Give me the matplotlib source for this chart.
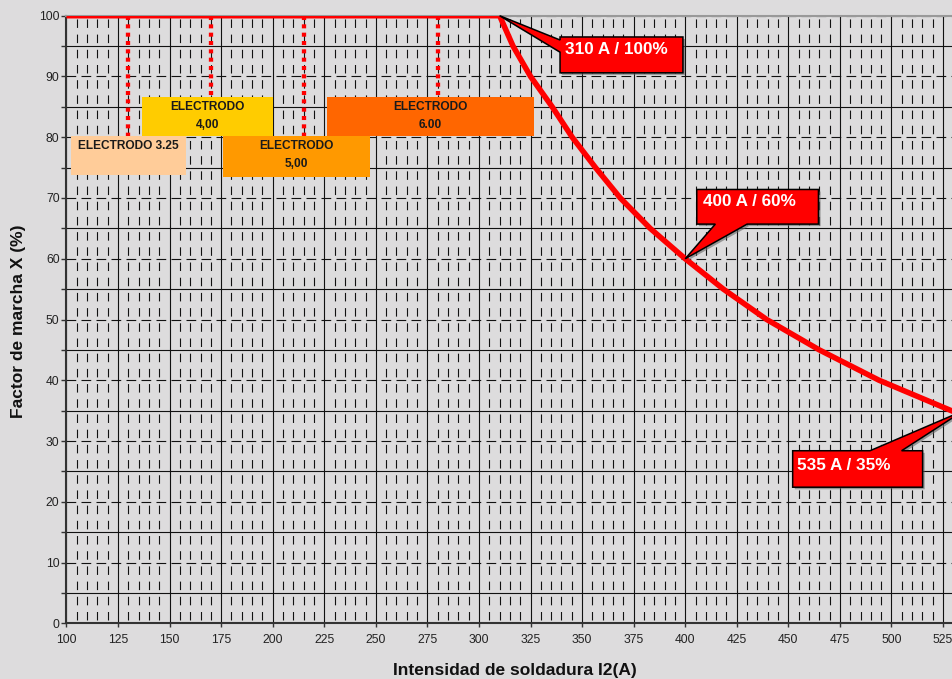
import matplotlib
matplotlib.use('Agg')
import matplotlib.pyplot as plt
from matplotlib.ticker import MultipleLocator
from matplotlib.patches import Polygon, Rectangle
import matplotlib.patheffects as pe

plt.rcParams['font.family'] = ['Liberation Sans', 'DejaVu Sans']
plt.rcParams['lines.scale_dashes'] = False

# ---------------- data ----------------
current = [100, 310, 316.5, 325, 335.5, 345.2, 356.5, 368.5, 383, 400, 418.5, 439.5, 465, 494, 529, 535]
duty = [100, 100, 95, 90, 85, 80, 75, 70, 65, 60, 55, 50, 45, 40, 35, 34.2]

electrode_names = ['ELECTRODO 3.25', 'ELECTRODO', 'ELECTRODO', 'ELECTRODO']
electrode_sizes = ['', '4,00', '5,00', '6.00']
electrode_current = [130, 170, 215, 280]

ann_labels = ['310 A / 100%', '400 A / 60%', '535 A / 35%']
ann_current = [310, 400, 535]
ann_duty = [100, 60, 35]

x_ticks = list(range(100, 526, 25))
y_ticks = list(range(0, 101, 10))

# ---------------- layout / style ----------------
bg = '#DDDCDD'
box_colors = ['#FFCC99', '#FFCC00', '#FF9900', '#FF6600']
# box extents (x0, x1, y_bottom, y_top) in data units
box_extent = [(102.2, 157.8, 73.8, 80.2),
              (136.5, 200.0, 80.2, 86.6),
              (175.9, 247.2, 73.5, 80.2),
              (226.2, 326.7, 80.2, 86.6)]
# callout boxes (x0, x1, y0, y1), wedge base, side
callout_box = [(339.3, 398.9, 90.6, 96.5),
               (405.6, 464.6, 65.7, 71.4),
               (452.1, 515.1, 22.4, 28.4)]
callout_wedge = [(94.0, 96.0), (414.6, 430.0), (489.6, 504.9)]
callout_side = ['left', 'bottom', 'top']
callout_text_pos = [(341.7, 94.4), (408.6, 69.4), (454.0, 26.05)]

W, H = 953, 679
fig = plt.figure(figsize=(W / 100, H / 100), dpi=100, facecolor=bg)
px_per_x = 2.0624
ax = fig.add_axes([66.5 / W, (H - 623.3) / H, 435 * px_per_x / W, (623.3 - 15.7) / H])
ax.set_facecolor(bg)
ax.set_xlim(100, 535)
ax.set_ylim(0, 100)

ax.xaxis.set_major_locator(MultipleLocator(25))
ax.xaxis.set_minor_locator(MultipleLocator(5))
ax.yaxis.set_major_locator(MultipleLocator(10))
ax.yaxis.set_minor_locator(MultipleLocator(5))
ax.set_xticks(x_ticks)
ax.set_yticks(y_ticks)

ax.set_axisbelow(True)
gcol = '#111111'
ax.grid(which='major', axis='x', color=gcol, lw=0.8, ls='-')
ax.grid(which='minor', axis='x', color=gcol, lw=0.8, ls=(8.78, (6.12, 4.82)))
ax.grid(which='major', axis='y', color=gcol, lw=0.8, ls=(0, (7.0, 3.8)))
ax.grid(which='minor', axis='y', color=gcol, lw=0.8, ls='-')

for s in ['left', 'bottom']:
    ax.spines[s].set_color('#333333')
    ax.spines[s].set_linewidth(1.5)
ax.spines['top'].set_color('#999999')
ax.spines['top'].set_linewidth(1.5)
ax.spines['right'].set_visible(False)

ax.tick_params(axis='x', which='major', direction='out', length=3, width=1,
               color='#333333', labelsize=8.7, pad=5, labelcolor='#222222')
ax.tick_params(axis='x', which='minor', length=0)
ax.tick_params(axis='y', which='both', direction='out', length=3.5, width=1,
               color='#333333', labelsize=8.7, pad=1.5, labelcolor='#222222')

fig.text(515 / W, 1 - 670 / H, 'Intensidad de soldadura I2(A)', ha='center', va='center',
         fontsize=12.5, fontweight='bold', color='#111111')
fig.text(18.5 / W, 1 - 321.7 / H, 'Factor de marcha X (%)', ha='center', va='center',
         rotation=90, fontsize=12.5, fontweight='bold', color='#111111')

# electrode boxes & dotted lines
for name, size, xc, col, (x0, x1, yb, yt) in zip(electrode_names, electrode_sizes,
                                                 electrode_current, box_colors, box_extent):
    ax.plot([xc, xc], [100, yt], color='#FF0000', lw=3.1, ls=(0, (2.9, 3.1)),
            dash_capstyle='butt', zorder=2.5)
    ax.add_patch(Rectangle((x0, yb), x1 - x0, yt - yb, facecolor=col, edgecolor='none', zorder=3))
    cx = (x0 + x1) / 2
    ax.text(cx, yt - 1.65, name, ha='center', va='center', fontsize=8.6,
            fontweight='bold', color='#1a1a1a', zorder=3.5)
    if size:
        ax.text(cx, yt - 4.65, size, ha='center', va='center', fontsize=8.6,
                fontweight='bold', color='#1a1a1a', zorder=3.5)

# curve
ax.plot(current, duty, color='#FF0000', lw=4.0, solid_capstyle='butt',
        solid_joinstyle='round', zorder=4)

# callouts
for lab, xi, yi, (x0, x1, y0, y1), (wa, wb), side, (tx, ty) in zip(
        ann_labels, ann_current, ann_duty, callout_box, callout_wedge,
        callout_side, callout_text_pos):
    tip = (xi, yi)
    if side == 'left':
        verts = [(x0, y0), (x1, y0), (x1, y1), (x0, y1), (x0, wb), tip, (x0, wa)]
    elif side == 'bottom':
        verts = [(x0, y0), (wa, y0), tip, (wb, y0), (x1, y0), (x1, y1), (x0, y1)]
    else:
        verts = [(x0, y0), (x1, y0), (x1, y1), (wb, y1), tip, (wa, y1), (x0, y1)]
    poly = Polygon(verts, closed=True, facecolor='#FF0000', edgecolor='#000000',
                   lw=1.1, joinstyle='miter', zorder=5, clip_on=False)
    poly.set_path_effects([pe.SimplePatchShadow(offset=(1.5, -1.5), shadow_rgbFace='#666666',
                                                alpha=0.6), pe.Normal()])
    ax.add_patch(poly)
    ax.text(tx, ty, lab, ha='left', va='center', fontsize=12.3, fontweight='bold',
            color='white', zorder=6)

fig.savefig('out.png', dpi=100, facecolor=bg)
